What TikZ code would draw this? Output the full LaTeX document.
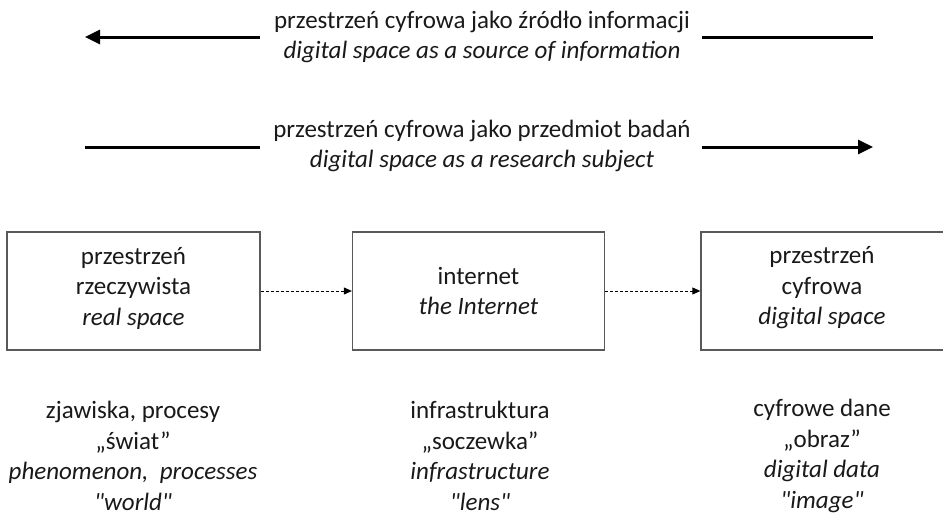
\documentclass[tikz,border=0pt]{standalone}
\usepackage{fontspec}
\setmainfont{Carlito}[Ligatures=TeXOff]
\usetikzlibrary{arrows.meta}
\begin{document}
\begin{tikzpicture}[x=1pt,y=-1pt,
  txt/.style={font=\fontsize{25}{30.5}\selectfont, align=center, inner sep=0pt, text=black!90},
  stage/.style={draw=black!65, line width=1.3pt, minimum height=118pt, inner sep=0pt},
  flow/.style={line width=3pt, -{Triangle[length=15pt,width=14pt]}},
  plainflow/.style={line width=3pt},
  link/.style={line width=0.9pt, dash pattern=on 3pt off 2pt, -{Triangle[length=8pt,width=7pt]}}]
  \useasboundingbox (0,0) rectangle (943,517);

  % headline arrows with their captions
  \node[txt] (src) at (482,37) {przestrzeń cyfrowa jako źródło informacji\\\textit{digital space as a source of information}};
  \node[txt] (res) at (482,146) {przestrzeń cyfrowa jako przedmiot badań\\\textit{digital space as a research subject}};

  \coordinate (s1) at (85,37);
  \coordinate (s2) at (260,37);
  \coordinate (s3) at (702,37);
  \coordinate (s4) at (873,37);
  \draw[flow] (s2) -- (s1);
  \draw[plainflow] (s3) -- (s4);

  \coordinate (r1) at (85,147);
  \coordinate (r2) at (260,147);
  \coordinate (r3) at (702,147);
  \coordinate (r4) at (873,147);
  \draw[plainflow] (r1) -- (r2);
  \draw[flow] (r3) -- (r4);

  % the three stages
  \node[stage, minimum width=253pt] (real) at (133.5,291) {};
  \node[stage, minimum width=252pt] (net) at (478.5,291) {};
  \node[stage, minimum width=246pt] (dig) at (824,291) {};
  \node[txt] (realtxt) at (133.5,288) {przestrzeń\\rzeczywista\\\textit{real space}};
  \node[txt] (nettxt) at (478.5,291) {internet\\\textit{the Internet}};
  \node[txt] (digtxt) at (822,288) {przestrzeń\\cyfrowa\\\textit{digital space}};

  \draw[link] (real.east) -- (net.west);
  \draw[link] (net.east) -- (dig.west);

  % descriptions under the stages
  \node[txt] (d1) at (133,456) {zjawiska, procesy\\„świat”\\\textit{phenomenon,\ \ processes}\\\textit{"world"}};
  \node[txt] (d2) at (480,456) {infrastruktura\\„soczewka”\\\textit{infrastructure}\\\textit{"lens"}};
  \node[txt] (d3) at (822,456) {cyfrowe dane\\„obraz”\\\textit{digital data}\\\textit{"image"}};
\end{tikzpicture}
\end{document}
